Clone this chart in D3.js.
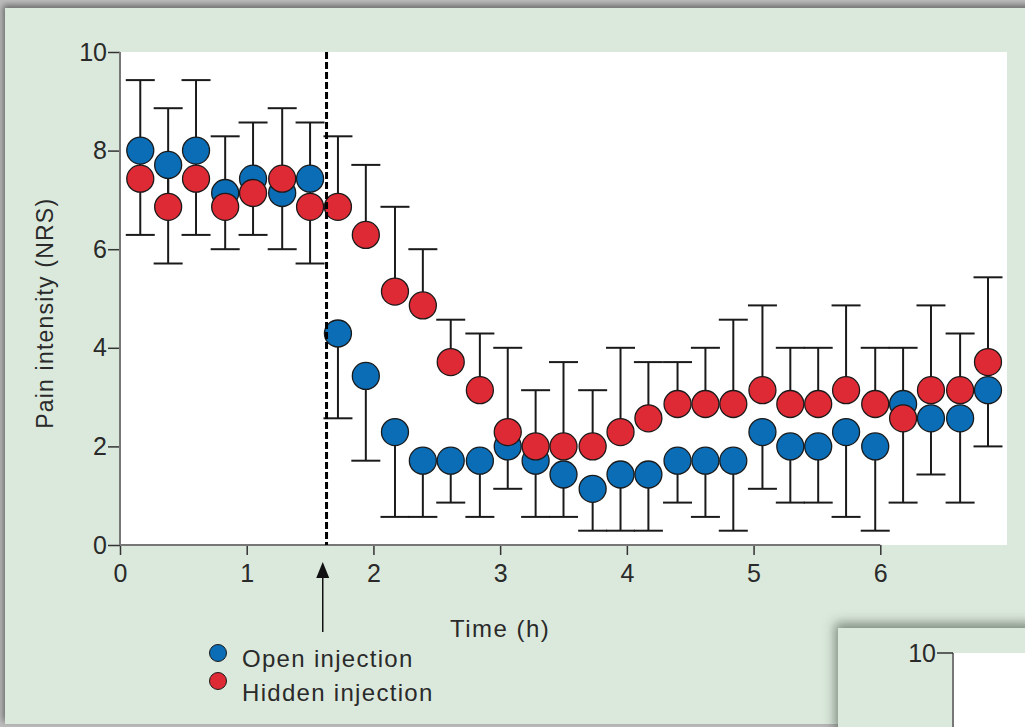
<!DOCTYPE html>
<html>
<head>
<meta charset="utf-8">
<script src="https://cdn.jsdelivr.net/npm/d3@7"></script>
<style>
  html, body { margin: 0; padding: 0; background: #bdbdbd; }
  svg { display: block; }
  text { font-family: "Liberation Sans", Arial, sans-serif; fill: #2a2a2a; }
</style>
</head>
<body>
<svg id="chart" width="1025" height="727"></svg>
<script>
// ---- data ----
const times = [0.16,0.38,0.60,0.83,1.05,1.28,1.50,1.72,1.94,2.17,2.39,2.61,2.84,3.06,3.28,3.50,3.73,3.95,4.17,4.40,4.62,4.84,5.07,5.29,5.51,5.73,5.96,6.18,6.40,6.63,6.85];
const openInjection = [8.00,7.71,8.00,7.14,7.43,7.14,7.43,4.29,3.43,2.29,1.71,1.71,1.71,2.00,1.71,1.43,1.14,1.43,1.43,1.71,1.71,1.71,2.29,2.00,2.00,2.29,2.00,2.86,2.57,2.57,3.14];
const hiddenInjection = [7.43,6.86,7.43,6.86,7.14,7.43,6.86,6.86,6.29,5.14,4.86,3.71,3.14,2.29,2.00,2.00,2.00,2.29,2.57,2.86,2.86,2.86,3.14,2.86,2.86,3.14,2.86,2.57,3.14,3.14,3.71];
// upper error-bar ends (drawn from hidden series) and lower ends (drawn from open series)
const upperError = [9.43,8.86,9.43,8.29,8.57,8.86,8.57,8.29,7.71,6.86,6.00,4.57,4.29,4.00,3.14,3.71,3.14,4.00,3.71,3.71,4.00,4.57,4.86,4.00,4.00,4.86,4.00,4.00,4.86,4.29,5.43];
const lowerError = [6.29,5.71,6.29,6.00,6.29,6.00,5.71,2.57,1.71,0.57,0.57,0.86,0.57,1.14,0.57,0.57,0.29,0.29,0.29,0.86,0.57,0.29,1.14,0.86,0.86,0.57,0.29,0.86,1.43,0.86,2.00];
const xTicks = [0,1,2,3,4,5,6];
const yTicks = [0,2,4,6,8,10];
const injectionTime = 1.63;
const arrowTime = 1.60;
const seriesNames = ["Open injection", "Hidden injection"];
const seriesColors = ["#0a6db5", "#dd2a35"];

// ---- drawing ----
const svg = d3.select("#chart");
const defs = svg.append("defs");
const f = defs.append("filter").attr("id","shadow").attr("x","-5%").attr("y","-5%").attr("width","110%").attr("height","110%");
f.append("feDropShadow").attr("dx",-2).attr("dy",-3).attr("stdDeviation",3).attr("flood-color","#444").attr("flood-opacity",0.7);
const f2 = defs.append("filter").attr("id","shadow2").attr("x","-20%").attr("y","-40%").attr("width","140%").attr("height","180%");
f2.append("feDropShadow").attr("dx",-3).attr("dy",-5).attr("stdDeviation",6).attr("flood-color","#3a4a3a").attr("flood-opacity",0.6);

const green = "#dbe9dc";
// main panel
svg.append("rect").attr("x",5).attr("y",8).attr("width",1030).attr("height",716)
  .attr("fill",green).attr("filter","url(#shadow)");

const x = d3.scaleLinear().domain([0,7]).range([120,1007]);
const y = d3.scaleLinear().domain([0,10]).range([545,52]);

// plot area
svg.append("rect").attr("x",x(0)).attr("y",y(10)).attr("width",x(7)-x(0)).attr("height",y(0)-y(10)).attr("fill","#fff");

// axes
const gy = svg.append("g").attr("transform",`translate(${x(0)},0)`)
  .call(d3.axisLeft(y).tickValues(yTicks).tickFormat(d3.format("d")).tickSize(12).tickPadding(1).tickSizeOuter(0));
gy.select(".domain").remove();
gy.selectAll(".tick line").attr("stroke","#333").attr("stroke-width",1.5);
gy.selectAll(".tick text").attr("font-size",25).attr("fill","#2a2a2a");
svg.append("line").attr("x1",x(0)).attr("x2",x(0)).attr("y1",y(0)).attr("y2",y(10))
  .attr("stroke","#777").attr("stroke-width",2);

const gx = svg.append("g").attr("transform",`translate(0,${y(0)})`)
  .call(d3.axisBottom(x).tickValues(xTicks).tickFormat(d3.format("d")).tickSize(10).tickPadding(9).tickSizeOuter(0));
gx.select(".domain").remove();
gx.selectAll(".tick line").attr("stroke","#333").attr("stroke-width",1.5);
gx.selectAll(".tick text").attr("font-size",25).attr("fill","#2a2a2a");
svg.append("line").attr("x1",x(0)).attr("x2",x(6)).attr("y1",y(0)).attr("y2",y(0))
  .attr("stroke","#777").attr("stroke-width",2);

// axis titles
svg.append("text").attr("x",x(3)).attr("y",637).attr("text-anchor","middle")
  .attr("font-size",24).attr("letter-spacing",1.5).text("Time (h)");
svg.append("text").attr("transform",`translate(53,${y(4.7)}) rotate(-90)`).attr("text-anchor","middle")
  .attr("font-size",23).attr("letter-spacing",1.2).text("Pain intensity (NRS)");

// error bars
const capW = 14.5;
const eb = svg.append("g").attr("stroke","#1a1a1a").attr("stroke-width",2).attr("fill","none");
times.forEach((t,i)=>{
  // upper, from hidden series
  eb.append("line").attr("x1",x(t)).attr("x2",x(t)).attr("y1",y(hiddenInjection[i])).attr("y2",y(upperError[i]));
  eb.append("line").attr("x1",x(t)-capW).attr("x2",x(t)+capW).attr("y1",y(upperError[i])).attr("y2",y(upperError[i]));
  // lower, from open series
  eb.append("line").attr("x1",x(t)).attr("x2",x(t)).attr("y1",y(openInjection[i])).attr("y2",y(lowerError[i]));
  eb.append("line").attr("x1",x(t)-capW).attr("x2",x(t)+capW).attr("y1",y(lowerError[i])).attr("y2",y(lowerError[i]));
});

// points
const r = 13.5;
[openInjection, hiddenInjection].forEach((vals,k)=>{
  svg.append("g").selectAll("circle").data(vals).join("circle")
    .attr("cx",(d,i)=>x(times[i])).attr("cy",d=>y(d)).attr("r",r)
    .attr("fill",seriesColors[k]).attr("stroke","#1a1a1a").attr("stroke-width",1.3);
});

// injection dashed line
svg.append("line").attr("x1",x(injectionTime)).attr("x2",x(injectionTime)).attr("y1",y(10)).attr("y2",y(0))
  .attr("stroke","#000").attr("stroke-width",3).attr("stroke-dasharray","7,3");

// arrow
const ax = x(arrowTime);
svg.append("line").attr("x1",ax).attr("x2",ax).attr("y1",632).attr("y2",574).attr("stroke","#111").attr("stroke-width",1.5);
svg.append("path").attr("d",`M${ax},562 L${ax-6.5},578 L${ax+6.5},578 Z`).attr("fill","#111");

// legend
const lg = svg.append("g");
seriesNames.forEach((name,k)=>{
  lg.append("circle").attr("cx",218).attr("cy",653 + k*28).attr("r",8.5)
    .attr("fill",seriesColors[k]).attr("stroke","#1a1a1a").attr("stroke-width",1);
  lg.append("text").attr("x",242).attr("y",667 + k*34).attr("font-size",24).attr("letter-spacing",1.3).text(name);
});

// neighbouring panel at bottom-right
svg.append("rect").attr("x",838).attr("y",628).attr("width",200).attr("height",110)
  .attr("fill",green).attr("filter","url(#shadow2)");
svg.append("rect").attr("x",953).attr("y",653).attr("width",80).attr("height",80).attr("fill","#fff");
svg.append("line").attr("x1",953).attr("x2",953).attr("y1",653).attr("y2",727).attr("stroke","#777").attr("stroke-width",2);
svg.append("line").attr("x1",937).attr("x2",953).attr("y1",653).attr("y2",653).attr("stroke","#333").attr("stroke-width",1.5);
svg.append("text").attr("x",936).attr("y",662).attr("text-anchor","end").attr("font-size",25).text("10");
</script>
</body>
</html>
